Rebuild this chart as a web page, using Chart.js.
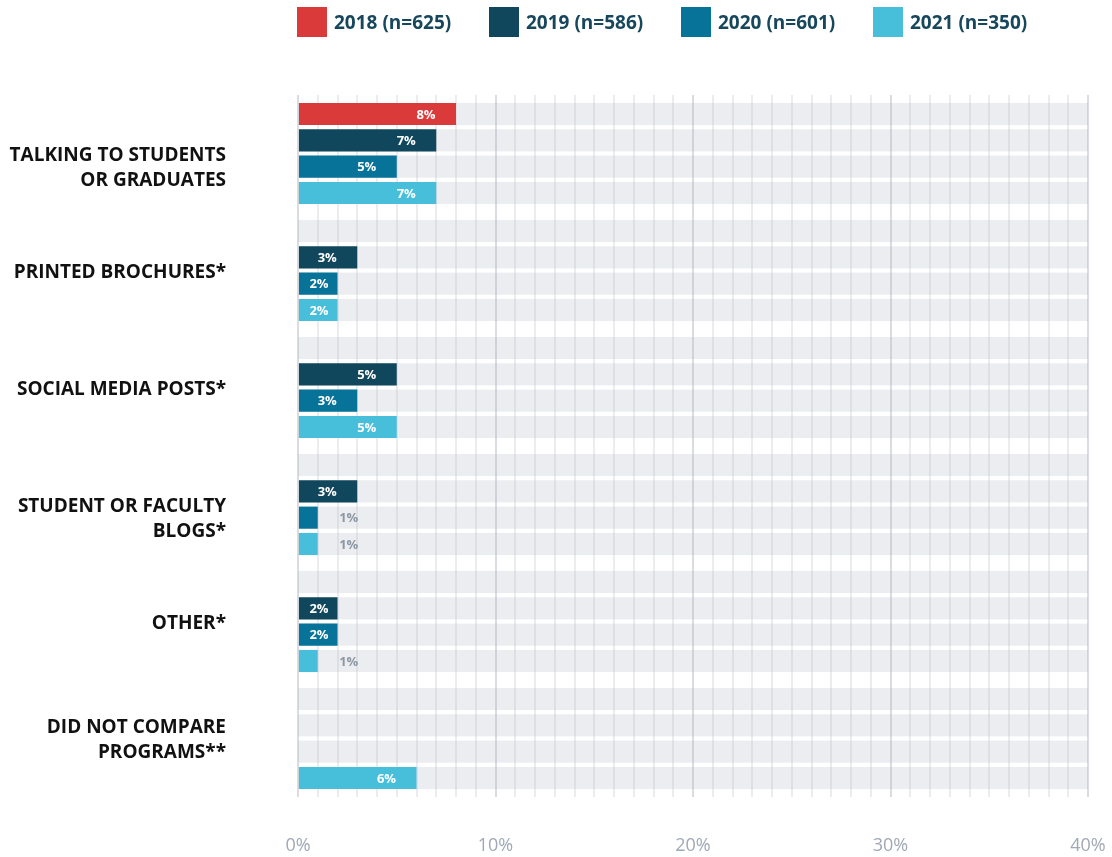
<!DOCTYPE html>
<html>
<head>
<meta charset="utf-8">
<script src="https://cdn.jsdelivr.net/npm/chart.js@4.4.0/dist/chart.umd.min.js"></script>
<style>
  html, body { margin: 0; padding: 0; background: #fff; }
  #wrap { position: relative; width: 1112px; height: 857px; }
  #legend { position: absolute; left: 297px; top: 7px; width: 800px; display: flex; }
  .legend_item { flex: 0 0 192px; display: flex; align-items: center; font: bold 19px 'Open Sans', sans-serif; color: #17475c; }
  .legend_box { flex: 0 0 30px; height: 30px; margin-right: 7px; }
  canvas { display: block; }
</style>
</head>
<body>
<div id="wrap">
  <div id="legend"></div>
  <canvas id="myChart" width="1112" height="857"></canvas>
</div>
<script>
// categories (two of them keep their first line on the row centre)
var categories = [
    ['', 'TALKING TO STUDENTS', 'OR GRADUATES'],
    'PRINTED BROCHURES*',
    'SOCIAL MEDIA POSTS*',
    ['', 'STUDENT OR FACULTY', 'BLOGS*'],
    'OTHER*',
    ['DID NOT COMPARE', 'PROGRAMS**']
];
var years = ['2018 (n=625)', '2019 (n=586)', '2020 (n=601)', '2021 (n=350)'];
var yearColors = ['#db3a3b', '#10475c', '#077399', '#47bfdb'];

var values2018 = [8, 0, 0, 0, 0, 0];
var values2019 = [7, 3, 5, 3, 2, 0];
var values2020 = [5, 2, 3, 1, 2, 0];
var values2021 = [7, 2, 5, 1, 1, 6];

var xTicks = [0, 10, 20, 30, 40];
var axisMax = 40;

// legend
var legend = document.getElementById('legend');
years.forEach(function (year, i) {
    var item = document.createElement('div');
    item.className = 'legend_item';
    item.innerHTML = '<span class="legend_box" style="background:' + yearColors[i] + '"></span>' + year;
    legend.appendChild(item);
});

// grey track behind every bar, full axis length
var barTracks = {
    id: 'barTracks',
    beforeDatasetsDraw: function (chart) {
        var ctx = chart.ctx;
        var x = chart.scales.x;
        var left = x.getPixelForValue(0);
        var right = x.getPixelForValue(axisMax);
        ctx.save();
        ctx.fillStyle = 'rgba(178,184,196,0.25)';
        chart.data.datasets.forEach(function (ds, i) {
            chart.getDatasetMeta(i).data.forEach(function (bar) {
                ctx.fillRect(left, bar.y - bar.height / 2, right - left, bar.height);
            });
        });
        ctx.restore();
    }
};

// percentage labels: inside the bar, or after it when the bar is too short
var valueLabels = {
    id: 'valueLabels',
    afterDatasetsDraw: function (chart) {
        var ctx = chart.ctx;
        ctx.save();
        ctx.font = 'bold 13px "Open Sans"';
        ctx.textAlign = 'center';
        ctx.textBaseline = 'middle';
        chart.data.datasets.forEach(function (ds, i) {
            chart.getDatasetMeta(i).data.forEach(function (bar, j) {
                var v = ds.data[j];
                if (!v) return;
                var tx;
                if (v < 2) {
                    tx = bar.x + 31;
                    ctx.fillStyle = '#8d98a6';
                } else {
                    tx = Math.max(bar.x - 30, bar.base + 20);
                    ctx.fillStyle = '#ffffff';
                }
                ctx.fillText(v + '%', tx, bar.y + 1);
            });
        });
        ctx.restore();
    }
};

var seriesValues = [values2018, values2019, values2020, values2021];

var ctx = document.getElementById('myChart').getContext('2d');
var chart = new Chart(ctx, {
    type: 'bar',
    data: {
        labels: categories,
        datasets: years.map(function (year, i) {
            return {
                label: year,
                data: seriesValues[i],
                backgroundColor: yearColors[i],
                barPercentage: 0.84,
                categoryPercentage: 0.9,
                minBarLength: 1
            };
        })
    },
    options: {
        indexAxis: 'y',
        responsive: false,
        animation: false,
        devicePixelRatio: 1,
        layout: { padding: { top: 95, left: 8, right: 24, bottom: 0 } },
        plugins: {
            legend: { display: false },
            tooltip: { enabled: false }
        },
        scales: {
            x: {
                min: 0,
                max: axisMax,
                position: 'bottom',
                border: { display: false },
                grid: {
                    // invisible tick marks push the labels down
                    drawTicks: true,
                    tickLength: 36,
                    tickColor: 'rgba(0,0,0,0)',
                    color: function (c) {
                        return xTicks.indexOf(c.tick.value) >= 0 ? '#d9dce1' : '#ebecef';
                    },
                    lineWidth: 2
                },
                ticks: {
                    stepSize: 1,
                    autoSkip: false,
                    maxRotation: 0,
                    padding: 2,
                    color: '#a0a9b5',
                    font: { family: 'Open Sans', size: 18 },
                    callback: function (v) {
                        return xTicks.indexOf(v) >= 0 ? v + '%' : '';
                    }
                },
                afterFit: function (scale) { scale.height = 60; }
            },
            y: {
                border: { display: false },
                grid: { display: false, drawTicks: true, tickLength: 68 },
                ticks: {
                    padding: 4,
                    labelOffset: 2,
                    color: '#111111',
                    font: { family: 'Open Sans', weight: 'bold', size: 19, lineHeight: 1.32 }
                },
                afterFit: function (scale) { scale.width = 290; }
            }
        }
    },
    plugins: [barTracks, valueLabels]
});
</script>
</body>
</html>
